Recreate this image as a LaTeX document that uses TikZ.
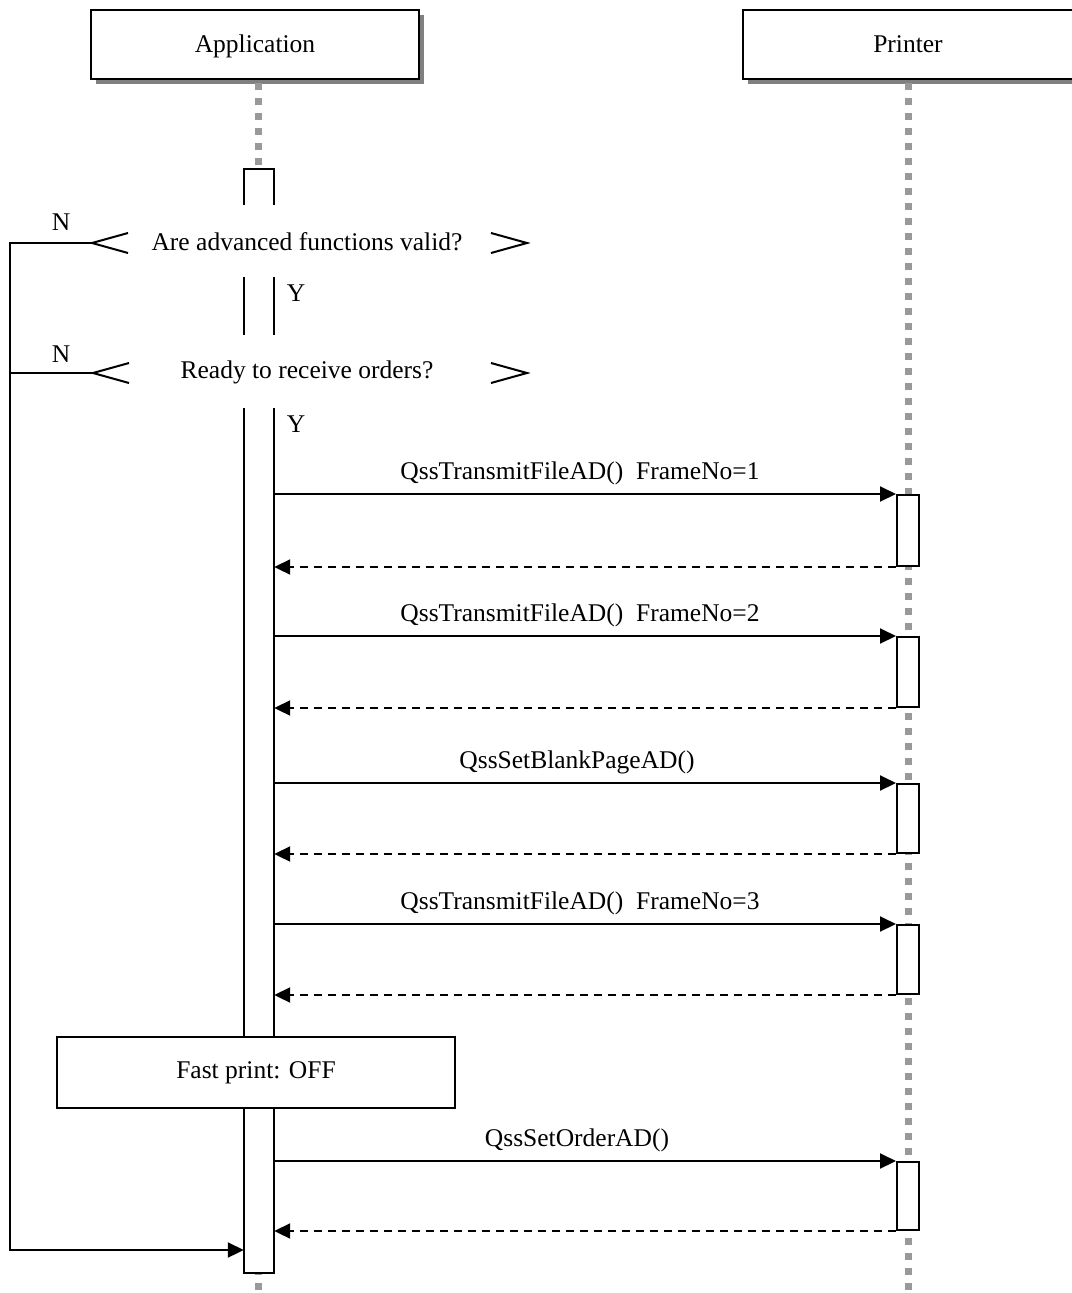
\documentclass[tikz,border=0pt]{standalone}
\usepackage{fontspec}
\setmainfont{Liberation Serif}
\usetikzlibrary{arrows.meta}
\begin{document}
\begin{tikzpicture}[x=1pt,y=-1pt,
  every node/.style={font=\fontsize{25.5}{30}\selectfont},
  head/.style={draw, line width=2pt, fill=white, minimum height=69pt, inner sep=0pt, text height=19pt, text depth=3pt},
  lifeline/.style={draw=black!40, line width=7pt, dash pattern=on 7pt off 8pt},
  act/.style={draw, line width=2pt, fill=white, minimum width=22pt, inner sep=0pt},
  seg/.style={line width=2pt},
  msg/.style={line width=2pt, -{Triangle[length=16pt,width=15pt]}},
  ret/.style={line width=2pt, dash pattern=on 8pt off 6pt, -{Triangle[length=16pt,width=15pt]}},
  lbl/.style={inner sep=0pt, anchor=base},
  plain/.style={inner sep=0pt},
  frame/.style={draw, line width=2pt, fill=white, minimum width=398pt, minimum height=71pt, inner sep=0pt},
  chev/.style={line width=2pt}
]
\useasboundingbox (0,0) rectangle (1071,1293);
% heads with shadows
\fill[black!50] (96,15) rectangle (424,84);
\node[head, minimum width=328pt] (appHead) at (255,44.5) {Application};
\fill[black!50] (748,15) rectangle (1080,84);
\node[head, minimum width=330pt] (prnHead) at (908,44.5) {Printer};
% lifelines
\coordinate (appTop) at (258,83);
\coordinate (appBot) at (258,1293);
\coordinate (prnTop) at (908,83);
\coordinate (prnBot) at (908,1293);
\draw[lifeline] (appTop) -- (appBot);
\draw[lifeline] (prnTop) -- (prnBot);
% application activation (segmented by the decisions)
\fill[white] (244,169) rectangle (274,1273);
\node[inner sep=0pt, minimum width=30pt, minimum height=865pt] (aact) at (259,840.5) {};
\draw[seg] (244,205) -- (244,169) -- (274,169) -- (274,205);
\draw[seg] (244,277) -- (244,335);
\draw[seg] (274,277) -- (274,335);
\draw[seg] (aact.north west) -- (aact.south west) -- (aact.south east) -- (aact.north east);
% decisions
\node[plain] (q1) at (307,242) {Are advanced functions valid?};
\node[plain] (q2) at (307,372) {Ready to receive orders?};
\coordinate (c1l) at (92,243);
\coordinate (c1r) at (527,243);
\coordinate (c2l) at (93,373);
\coordinate (c2r) at (527,373);
\draw[chev] ([xshift=36pt,yshift=-10pt]c1l) -- (c1l) -- ([xshift=36pt,yshift=10pt]c1l);
\draw[chev] ([xshift=-36pt,yshift=-10pt]c1r) -- (c1r) -- ([xshift=-36pt,yshift=10pt]c1r);
\draw[chev] ([xshift=36pt,yshift=-10pt]c2l) -- (c2l) -- ([xshift=36pt,yshift=10pt]c2l);
\draw[chev] ([xshift=-36pt,yshift=-10pt]c2r) -- (c2r) -- ([xshift=-36pt,yshift=10pt]c2r);
\node[plain] (n1) at (61,222) {N};
\node[plain] (n2) at (61,354) {N};
\node[plain] (y1) at (296,293) {Y};
\node[plain] (y2) at (296,424) {Y};
% loop back
\coordinate (loopTop) at (10,243);
\coordinate (loopMid) at (10,373);
\coordinate (loopBot) at (10,1250);
\draw[msg] (c1l) -- (loopTop) -- (loopBot) -- (aact.west |- loopBot);
\draw[seg] (c2l) -- (loopMid);
% printer activations
\node[act, minimum height=71pt] (p1) at (908,530.5) {};
\node[act, minimum height=70pt] (p2) at (908,672) {};
\node[act, minimum height=69pt] (p3) at (908,818.5) {};
\node[act, minimum height=69pt] (p4) at (908,959.5) {};
\node[act, minimum height=68pt] (p5) at (908,1196) {};
% messages
\draw[msg] (aact.east |- p1.north) -- (p1.north west);
\draw[ret] (p1.south west) -- (aact.east |- p1.south);
\node[lbl] (m1) at (580,479) {QssTransmitFileAD()\hspace{0.5em}FrameNo=1};
\draw[msg] (aact.east |- p2.north) -- (p2.north west);
\draw[ret] (p2.south west) -- (aact.east |- p2.south);
\node[lbl] (m2) at (580,621) {QssTransmitFileAD()\hspace{0.5em}FrameNo=2};
\draw[msg] (aact.east |- p3.north) -- (p3.north west);
\draw[ret] (p3.south west) -- (aact.east |- p3.south);
\node[lbl] (m3) at (577,768) {QssSetBlankPageAD()};
\draw[msg] (aact.east |- p4.north) -- (p4.north west);
\draw[ret] (p4.south west) -- (aact.east |- p4.south);
\node[lbl] (m4) at (580,909) {QssTransmitFileAD()\hspace{0.5em}FrameNo=3};
\draw[msg] (aact.east |- p5.north) -- (p5.north west);
\draw[ret] (p5.south west) -- (aact.east |- p5.south);
\node[lbl] (m5) at (577,1146) {QssSetOrderAD()};
% fast print frame
\node[frame] (fp) at (256,1072.5) {Fast print: OFF};
\end{tikzpicture}
\end{document}
